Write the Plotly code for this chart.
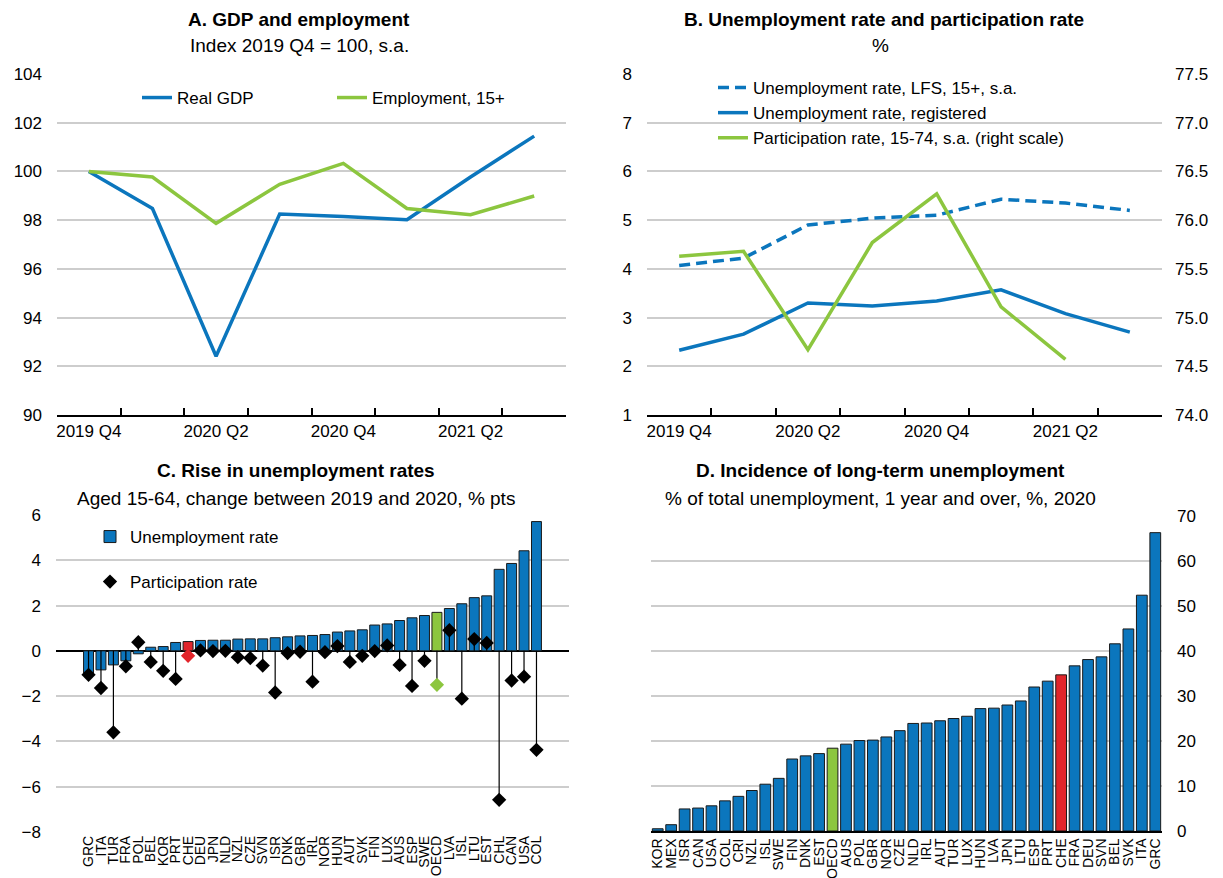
import plotly.graph_objects as go

# ---------------- data ----------------
quarters = ["2019 Q4", "2020 Q1", "2020 Q2", "2020 Q3", "2020 Q4", "2021 Q1", "2021 Q2", "2021 Q3"]
quarter_ticks = ["2019 Q4", "", "2020 Q2", "", "2020 Q4", "", "2021 Q2", ""]

real_gdp = [100.0, 98.48, 92.41, 98.25, 98.15, 98.02, 99.77, 101.45]
employment = [100.0, 99.77, 97.87, 99.47, 100.33, 98.48, 98.22, 98.99]

unemp_lfs = [4.07, 4.22, 4.90, 5.04, 5.10, 5.43, 5.35, 5.20]
unemp_reg = [2.33, 2.66, 3.30, 3.24, 3.34, 3.57, 3.08, 2.70]
participation = [75.63, 75.68, 74.67, 75.77, 76.27, 75.11, 74.57, None]

c_countries = ["GRC", "ITA", "TUR", "FRA", "POL", "BEL", "KOR", "PRT", "CHE", "DEU",
               "JPN", "NLD", "NZL", "CZE", "SVN", "ISR", "DNK", "GBR", "IRL", "NOR",
               "HUN", "AUT", "SVK", "FIN", "LUX", "AUS", "ESP", "SWE", "OECD", "LVA",
               "ISL", "LTU", "EST", "CHL", "CAN", "USA", "COL"]
c_unemp = [-0.99, -0.84, -0.62, -0.44, -0.13, 0.16, 0.19, 0.37, 0.41, 0.46,
           0.47, 0.47, 0.52, 0.53, 0.53, 0.58, 0.62, 0.66, 0.68, 0.72,
           0.83, 0.88, 0.93, 1.14, 1.19, 1.34, 1.46, 1.56, 1.70, 1.87,
           2.08, 2.35, 2.43, 3.60, 3.86, 4.42, 5.71]
c_part = [-1.06, -1.64, -3.60, -0.68, 0.38, -0.49, -0.88, -1.24, -0.22, 0.02,
          -0.01, 0.00, -0.28, -0.32, -0.65, -1.84, -0.10, -0.04, -1.36, -0.06,
          0.21, -0.49, -0.22, -0.01, 0.24, -0.62, -1.55, -0.44, -1.50, 0.91,
          -2.11, 0.52, 0.35, -6.58, -1.31, -1.14, -4.37]

d_countries = ["KOR", "MEX", "ISR", "CAN", "USA", "COL", "CRI", "NZL", "ISL", "SWE",
               "FIN", "DNK", "EST", "OECD", "AUS", "POL", "GBR", "NOR", "CZE", "NLD",
               "IRL", "AUT", "TUR", "LUX", "HUN", "LVA", "JPN", "LTU", "ESP", "PRT",
               "CHE", "FRA", "DEU", "SVN", "BEL", "SVK", "ITA", "GRC"]
d_values = [0.5, 1.4, 4.9, 5.1, 5.6, 6.7, 7.7, 9.0, 10.4, 11.7,
            16.0, 16.7, 17.2, 18.4, 19.3, 20.1, 20.2, 20.9, 22.3, 23.9,
            24.0, 24.5, 25.0, 25.5, 27.2, 27.3, 28.0, 28.9, 32.0, 33.3,
            34.7, 36.7, 38.1, 38.7, 41.6, 44.9, 52.4, 66.3]

# ---------------- style ----------------
W, H = 1223, 878
BLUE = "#0B76BD"
GREEN = "#8CC63F"
RED = "#E2252B"
GRID = "#CDCDCD"
FONT = "Liberation Sans Narrow, Arial Narrow, Liberation Sans, Arial, sans-serif"
FS = 17
highlight = {"CHE": RED, "OECD": GREEN}


def px_x(p):
    return p / W


def px_y(p):
    return 1 - p / H


def bar_colors(cats):
    return [highlight.get(c, BLUE) for c in cats]


def marker_colors(cats):
    return [highlight.get(c, "black") for c in cats]


fig = go.Figure()

# Panel A
fig.add_trace(go.Scatter(x=quarters, y=real_gdp, mode="lines", name="Real GDP",
                         line=dict(color=BLUE, width=3.5), xaxis="x", yaxis="y",
                         legend="legend"))
fig.add_trace(go.Scatter(x=quarters, y=employment, mode="lines", name="Employment, 15+",
                         line=dict(color=GREEN, width=3.5), xaxis="x", yaxis="y",
                         legend="legend2"))

# Panel B
fig.add_trace(go.Scatter(x=quarters, y=unemp_lfs, mode="lines",
                         name="Unemployment rate, LFS, 15+, s.a.",
                         line=dict(color=BLUE, width=3.5, dash="11px,6px"),
                         xaxis="x2", yaxis="y2", legend="legend3"))
fig.add_trace(go.Scatter(x=quarters, y=unemp_reg, mode="lines",
                         name="Unemployment rate, registered",
                         line=dict(color=BLUE, width=3.5),
                         xaxis="x2", yaxis="y2", legend="legend3"))
fig.add_trace(go.Scatter(x=quarters, y=participation, mode="lines",
                         name="Participation rate, 15-74, s.a. (right scale)",
                         line=dict(color=GREEN, width=3.5),
                         xaxis="x2", yaxis="y3", legend="legend3"))

# Panel C
fig.add_trace(go.Bar(x=c_countries, y=c_unemp, name="Unemployment rate",
                     marker=dict(color=bar_colors(c_countries), line=dict(color="#1a1a1a", width=1)),
                     xaxis="x3", yaxis="y4", legend="legend4"))
fig.add_trace(go.Scatter(x=c_countries, y=c_part, mode="markers", name="Participation rate",
                         marker=dict(symbol="diamond", size=11, color=marker_colors(c_countries)),
                         error_y=dict(type="data", symmetric=False,
                                      array=[max(-v, 0) for v in c_part],
                                      arrayminus=[max(v, 0) for v in c_part],
                                      color="black", thickness=1.2, width=0),
                         xaxis="x3", yaxis="y4", legend="legend5"))

# Panel D
fig.add_trace(go.Bar(x=d_countries, y=d_values, showlegend=False,
                     marker=dict(color=bar_colors(d_countries), line=dict(color="#1a1a1a", width=1)),
                     xaxis="x4", yaxis="y5"))

tickfont = dict(family=FONT, size=FS, color="black")
small_font = dict(family=FONT, size=14, color="black")

A_dom_x = [px_x(57), px_x(566)]
B_dom_x = [px_x(647), px_x(1162)]
AB_dom_y = [px_y(415), px_y(74)]
C_dom_x = [px_x(56), px_x(569)]
C_dom_y = [px_y(832), px_y(515)]
D_dom_x = [px_x(651), px_x(1162)]
D_dom_y = [px_y(831), px_y(516)]

time_xaxis = dict(type="category", tickmode="array", tickvals=quarters, ticktext=quarter_ticks,
                  range=[-0.5, len(quarters) - 0.5],
                  tickson="boundaries", ticks="inside", ticklen=7, tickwidth=1.5, tickcolor="black",
                  showline=True, linecolor="black", linewidth=1.8, showgrid=False,
                  tickangle=0, tickfont=tickfont, automargin=False, fixedrange=True)

value_yaxis = dict(showgrid=True, gridcolor=GRID, gridwidth=2, zeroline=False, ticks="",
                   showline=False, tickfont=tickfont, automargin=False)

legend_common = dict(bgcolor="rgba(0,0,0,0)", borderwidth=0, font=tickfont,
                     xref="paper", yref="paper", xanchor="left", yanchor="middle")

fig.update_layout(
    template="none",
    width=W, height=H,
    margin=dict(l=0, r=0, t=0, b=0, autoexpand=False),
    paper_bgcolor="white", plot_bgcolor="white",
    font=dict(family=FONT, size=FS, color="black"),
    bargap=0.2,
    xaxis=dict(domain=A_dom_x, anchor="y", **time_xaxis),
    yaxis=dict(domain=AB_dom_y, anchor="x", range=[90, 104], dtick=2,
               ticklabelstandoff=14, **value_yaxis),
    xaxis2=dict(domain=B_dom_x, anchor="y2", **time_xaxis),
    yaxis2=dict(domain=AB_dom_y, anchor="x2", range=[1, 8], dtick=1,
                ticklabelstandoff=14, **value_yaxis),
    yaxis3=dict(domain=AB_dom_y, anchor="x2", overlaying="y2", side="right",
                range=[74, 77.5], dtick=0.5, tickformat=".1f", showgrid=False,
                zeroline=False, ticks="", tickfont=tickfont, automargin=False,
                ticklabelstandoff=12),
    xaxis3=dict(domain=C_dom_x, anchor="y4", type="category", tickmode="array",
                tickvals=c_countries, showline=False, showgrid=False,
                ticks="", tickangle=-90, tickfont=small_font, automargin=False),
    yaxis4=dict(domain=C_dom_y, anchor="x3", range=[-8, 6], dtick=2, showgrid=True,
                gridcolor=GRID, gridwidth=2, zeroline=True, zerolinecolor="black",
                zerolinewidth=1.8, ticks="", tickfont=tickfont, automargin=False,
                ticklabelstandoff=14),
    xaxis4=dict(domain=D_dom_x, anchor="y5", type="category", tickmode="array",
                tickvals=d_countries, showline=True,
                linecolor="black", linewidth=1.8, showgrid=False, ticks="",
                tickangle=-90, tickfont=small_font, automargin=False),
    yaxis5=dict(domain=D_dom_y, anchor="x4", side="right", range=[0, 70], dtick=10,
                ticklabelstandoff=14, **value_yaxis),
    legend=dict(x=px_x(137), y=px_y(98), **legend_common),
    legend2=dict(x=px_x(332), y=px_y(98), **legend_common),
    legend3=dict(x=px_x(713), y=px_y(113), tracegroupgap=0, **legend_common),
    legend4=dict(x=px_x(90), y=px_y(537), **legend_common),
    legend5=dict(x=px_x(90), y=px_y(582), **legend_common),
)

titles = [
    ("<b>A. GDP and employment</b>", 299, 19),
    ("Index 2019 Q4 = 100, s.a.", 299, 45),
    ("<b>B. Unemployment rate and participation rate</b>", 884, 19),
    ("%", 880, 45),
    ("<b>C. Rise in unemployment rates</b>", 296, 471),
    ("Aged 15-64, change between 2019 and 2020, % pts", 296, 498),
    ("<b>D. Incidence of long-term unemployment</b>", 880, 471),
    ("% of total unemployment, 1 year and over, %, 2020", 880, 498),
]
for text, cx, cy in titles:
    fig.add_annotation(text=text, x=px_x(cx), y=px_y(cy), xref="paper", yref="paper",
                       xanchor="center", yanchor="middle", showarrow=False,
                       font=dict(family=FONT, size=19, color="black"))

fig.write_html("out.html", config={"displayModeBar": False},
               post_script="document.body.style.margin='0px';")
